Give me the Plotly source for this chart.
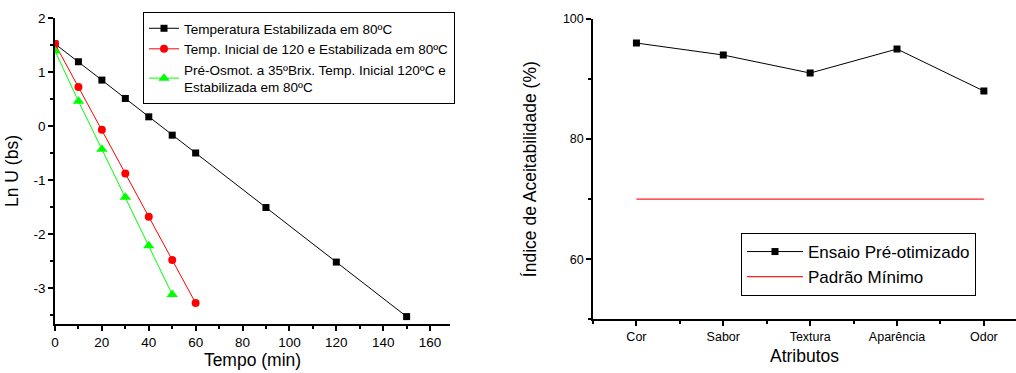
import plotly.graph_objects as go

# ---- Left chart data ----
t_black = [0, 10, 20, 30, 40, 50, 60, 90, 120, 150]
ln_black = [1.52, 1.19, 0.85, 0.51, 0.17, -0.17, -0.50, -1.51, -2.52, -3.53]
t_red = [0, 10, 20, 30, 40, 50, 60]
ln_red = [1.52, 0.72, -0.07, -0.88, -1.68, -2.48, -3.28]
t_green = [0, 10, 20, 30, 40, 50]
ln_green = [1.39, 0.46, -0.43, -1.32, -2.22, -3.12]
name_black = "Temperatura Estabilizada em 80ºC"
name_red = "Temp. Inicial de 120 e Estabilizada em 80ºC"
name_green = "Pré-Osmot. a 35ºBrix. Temp. Inicial 120ºC e<br>Estabilizada em 80ºC"
x_ticks = [0, 20, 40, 60, 80, 100, 120, 140, 160]
y_ticks = [-3, -2, -1, 0, 1, 2]
y_ticklabels = ["-3", "-2", "-1", "0", "1", "2"]

# ---- Right chart data ----
categories = ["Cor", "Sabor", "Textura", "Aparência", "Odor"]
ensaio = [96, 94, 91, 95, 88]
padrao = [70, 70, 70, 70, 70]
y2_ticks = [60, 80, 100]

FONT = "Liberation Sans, Arial, sans-serif"
W, H = 1016, 373

fig = go.Figure()

fig.add_trace(go.Scatter(x=t_black, y=ln_black, mode="lines+markers", name=name_black,
                         line=dict(color="black", width=1),
                         marker=dict(symbol="square", size=7, color="black"),
                         xaxis="x", yaxis="y", legend="legend"))
fig.add_trace(go.Scatter(x=t_red, y=ln_red, mode="lines+markers", name=name_red,
                         line=dict(color="#ff0000", width=1),
                         marker=dict(symbol="circle", size=8, color="#ff0000"),
                         xaxis="x", yaxis="y", legend="legend"))
fig.add_trace(go.Scatter(x=t_green, y=ln_green, mode="lines+markers", name=name_green,
                         line=dict(color="#00ff00", width=1),
                         marker=dict(symbol="triangle-up", size=10, color="#00ff00"),
                         xaxis="x", yaxis="y", legend="legend"))

cat_pos = list(range(len(categories)))
fig.add_trace(go.Scatter(x=cat_pos, y=ensaio, mode="lines+markers", name="Ensaio Pré-otimizado",
                         line=dict(color="black", width=1),
                         marker=dict(symbol="square", size=7, color="black"),
                         xaxis="x2", yaxis="y2", legend="legend2"))
fig.add_trace(go.Scatter(x=cat_pos, y=padrao, mode="lines", name="Padrão Mínimo",
                         line=dict(color="#ff2020", width=1.3),
                         xaxis="x2", yaxis="y2", legend="legend2"))

axis_common = dict(showline=True, linecolor="black", linewidth=1.5, ticks="outside",
                   ticklen=5, tickwidth=1.5, tickcolor="black", showgrid=False,
                   zeroline=False, mirror=False, automargin=False)
minor_common = dict(ticks="outside", ticklen=3, tickwidth=1.5, tickcolor="black")

fig.update_layout(
    width=W, height=H,
    margin=dict(l=0, r=0, t=0, b=0, autoexpand=False),
    paper_bgcolor="white", plot_bgcolor="white",
    font=dict(family=FONT, color="black"),
    xaxis=dict(**axis_common, domain=[55 / W, 450 / W], range=[0, 168.5],
               tickvals=x_ticks,
               minor=dict(**minor_common, dtick=10, tick0=0),
               tickfont=dict(size=13.5), anchor="y",
               title=dict(text="Tempo (min)", font=dict(size=17.5), standoff=5)),
    yaxis=dict(**axis_common, domain=[49 / H, 355 / H], range=[-3.667, 2],
               tickvals=y_ticks, ticktext=y_ticklabels,
               minor=dict(**minor_common, dtick=0.5, tick0=0),
               tickfont=dict(size=13.5), anchor="x",
               title=dict(text="Ln U (bs)", font=dict(size=17.5), standoff=10)),
    xaxis2=dict(**axis_common, domain=[593 / W, 1.0], range=[-0.5, 4.37],
                tickvals=cat_pos, ticktext=categories,
                minor=dict(**minor_common, dtick=0.5, tick0=-0.5),
                tickfont=dict(size=12.5), anchor="y2",
                title=dict(text="Atributos", font=dict(size=17.5), standoff=7)),
    yaxis2=dict(**axis_common, domain=[53.7 / H, 354 / H], range=[50, 100],
                tickvals=y2_ticks,
                minor=dict(**minor_common, dtick=10, tick0=50),
                tickfont=dict(size=12.5), anchor="x2",
                title=dict(text="Índice de Aceitabilidade (%)", font=dict(size=17.5), standoff=22)),
    legend=dict(x=143 / W, y=1 - 12 / H, xanchor="left", yanchor="top",
                bordercolor="black", borderwidth=1, bgcolor="white",
                font=dict(size=13.5, family=FONT), tracegroupgap=0, itemwidth=30),
    legend2=dict(x=741 / W, y=1 - 233 / H, xanchor="left", yanchor="top",
                 bordercolor="black", borderwidth=1, bgcolor="white",
                 font=dict(size=17, family=FONT), tracegroupgap=0, itemwidth=56),
    showlegend=True,
)

fig.write_html("out.html")
